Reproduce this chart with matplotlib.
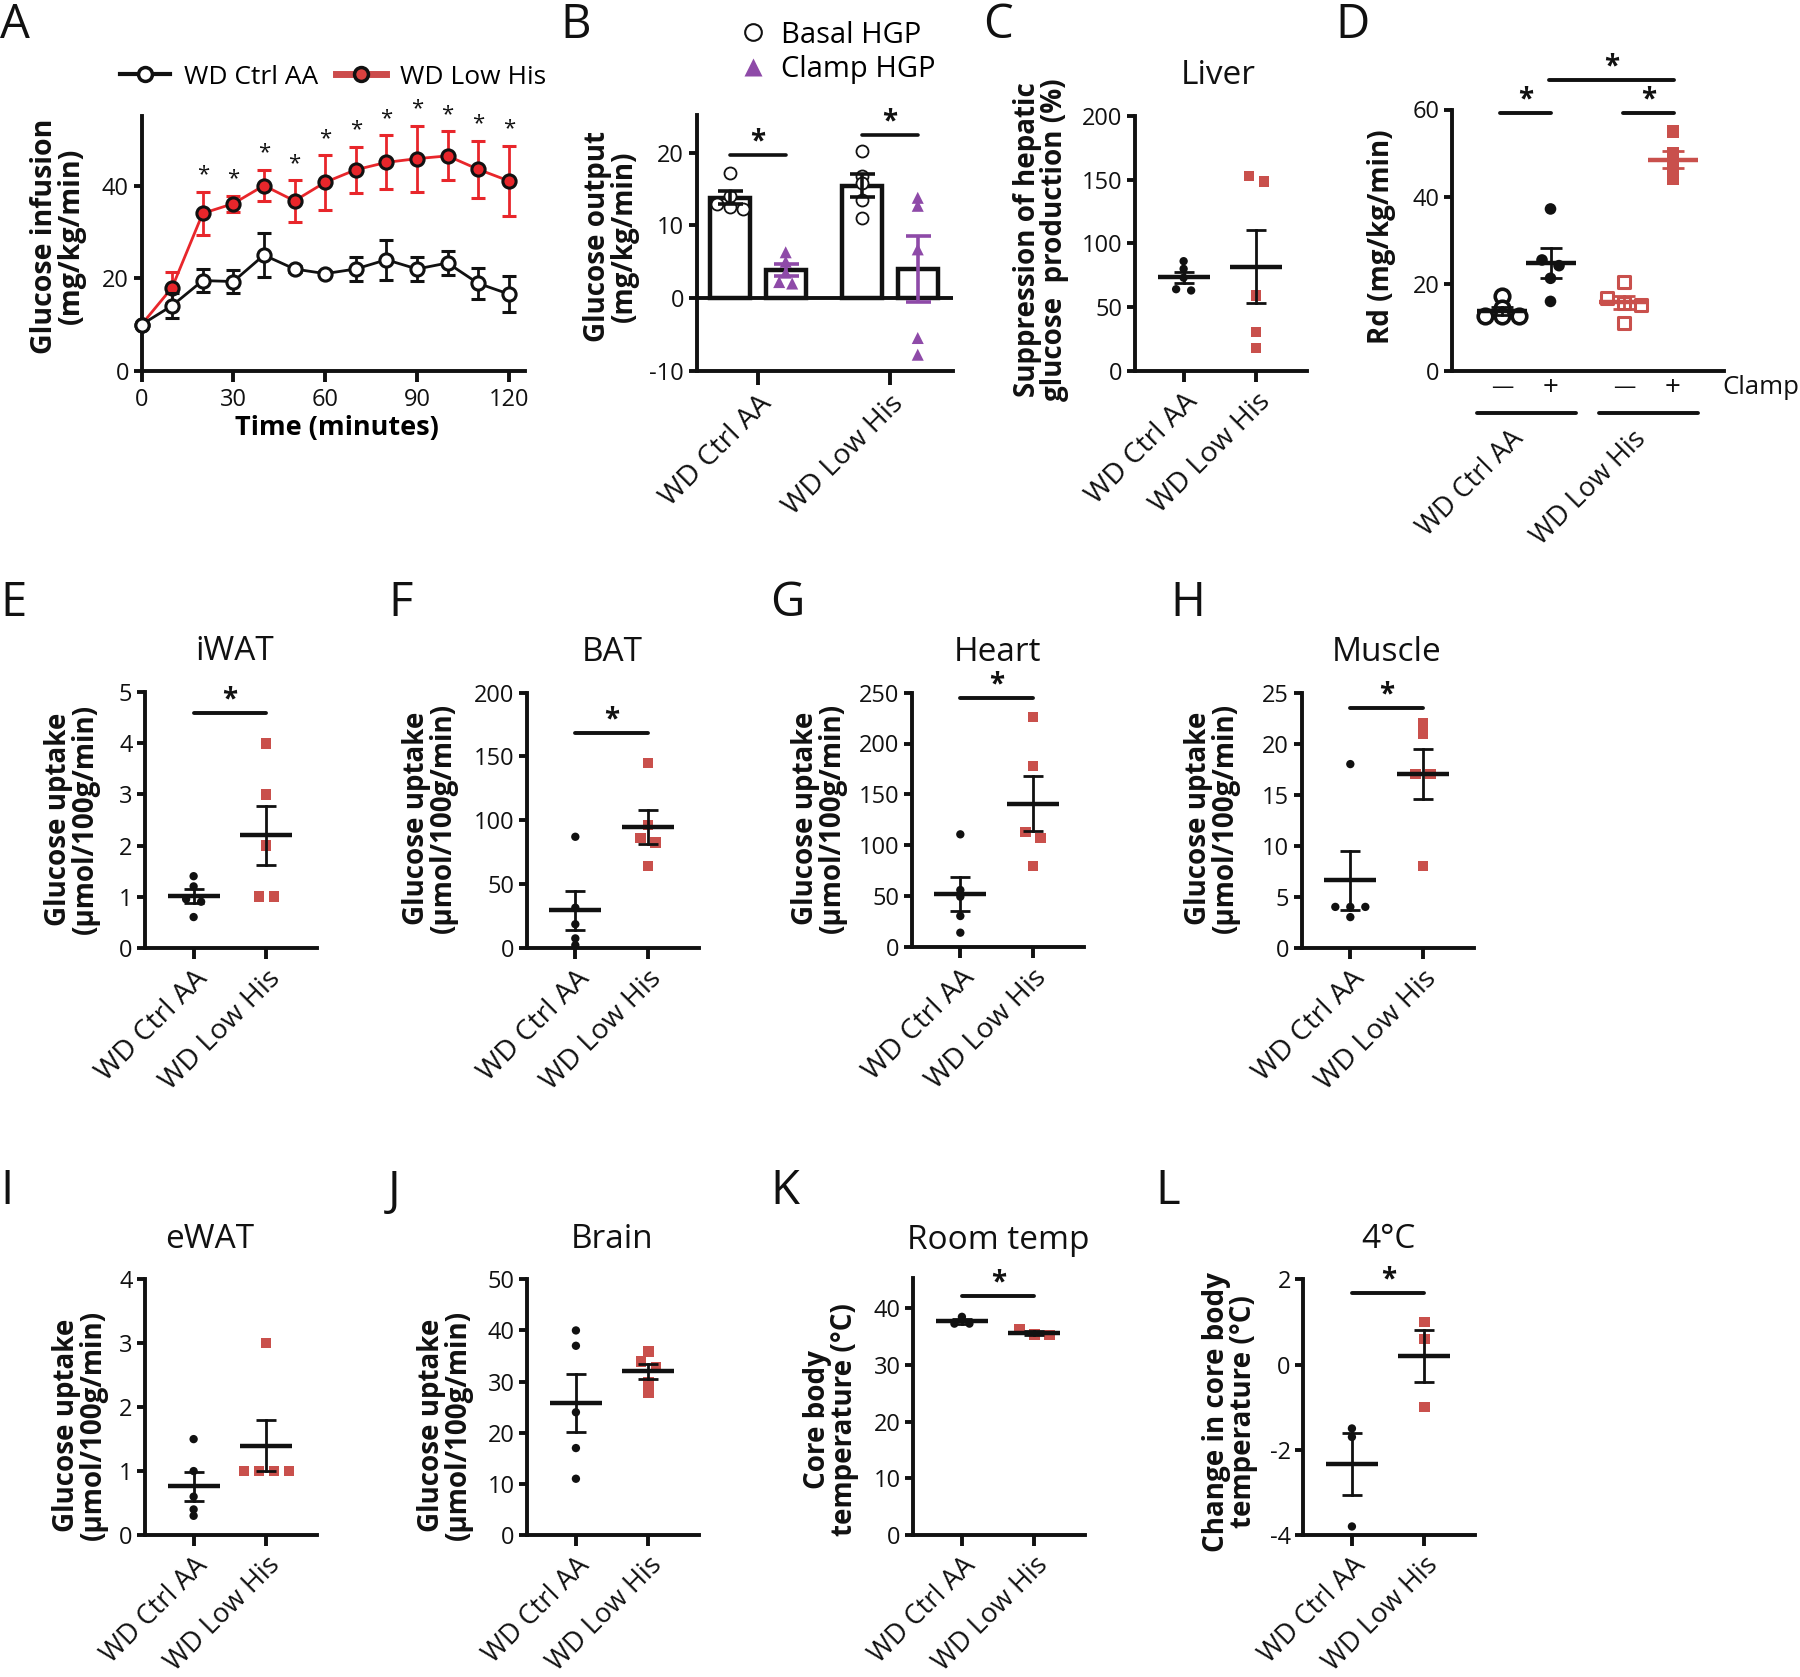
import numpy as np
import matplotlib
matplotlib.use("Agg")
import matplotlib.pyplot as plt
from matplotlib.lines import Line2D
import matplotlib.transforms as mtrans

plt.rcParams['font.family'] = ['Open Sans', 'DejaVu Sans']
plt.rcParams['axes.unicode_minus'] = False

# ---------------- data ----------------
groups = ['WD Ctrl AA', 'WD Low His']

# A: glucose infusion rate
time_min = [0, 10, 20, 30, 40, 50, 60, 70, 80, 90, 100, 110, 120]
gir_ctrl = [10.0, 14.1, 19.5, 19.3, 25.0, 22.0, 21.0, 22.0, 24.0, 22.0, 23.3, 18.9, 16.6]
gir_ctrl_sem = [0.0, 2.7, 2.5, 2.5, 4.7, 0.7, 0.5, 2.5, 4.3, 2.5, 2.5, 3.3, 3.9]
gir_lowhis = [10.0, 18.0, 34.0, 36.1, 40.0, 36.7, 40.7, 43.4, 45.0, 45.8, 46.4, 43.5, 41.0]
gir_lowhis_sem = [0.0, 3.3, 4.7, 1.7, 3.4, 4.5, 5.9, 5.0, 5.8, 7.1, 5.3, 6.2, 7.6]
gir_sig = [False, False, True, True, True, True, True, True, True, True, True, True, True]

# B: hepatic glucose production
hgp_basal_ctrl = [17.2, 12.3, 12.5, 13.0, 14.0]
hgp_clamp_ctrl = [6.3, 5.0, 3.5, 2.0, 2.2]
hgp_basal_lowhis = [20.2, 16.8, 15.8, 13.5, 11.0]
hgp_clamp_lowhis = [13.8, 12.7, 6.7, -5.5, -7.8]

# C: suppression of HGP
liver_ctrl = [86, 80, 73, 64, 63]
liver_lowhis = [153, 148.5, 59, 30.6, 18]

# D: Rd
rd_labels = ['\u2014', '+', '\u2014', '+']
rd_ctrl_basal = [17.2, 14.5, 12.6, 12.6, 12.6]
rd_ctrl_clamp = [37.2, 25.5, 24.2, 21.3, 16.0]
rd_lowhis_basal = [20.4, 16.8, 15.6, 15.2, 11.1]
rd_lowhis_clamp = [55.0, 49.9, 47.6, 46.0, 44.0]

# E-J: tissue glucose uptake
iwat_ctrl = [1.4, 1.2, 0.95, 0.9, 0.6]
iwat_lowhis = [4.0, 3.0, 2.0, 1.0, 1.0]
bat_ctrl = [87, 31.4, 18.4, 7.3, 2.0]
bat_lowhis = [144.6, 96.2, 86.3, 82.4, 64.1]
heart_ctrl = [110.6, 55.8, 49.2, 30.2, 13.8]
heart_lowhis = [226.4, 177.9, 112.6, 107.3, 79.4]
muscle_ctrl = [18, 4, 4, 4, 3]
muscle_lowhis = [22, 21, 17, 17, 8]
ewat_ctrl = [1.5, 1.0, 0.6, 0.4, 0.3]
ewat_lowhis = [3.0, 1.0, 1.0, 1.0, 1.0]
brain_ctrl = [40, 37, 24, 17, 11]
brain_lowhis = [35.9, 33.9, 32.8, 29.8, 27.8]

# K, L: body temperature
roomtemp_ctrl = [38.5, 37.3, 37.3]
roomtemp_lowhis = [36.3, 35.4, 35.3]
cold_ctrl = [-1.5, -1.7, -3.8]
cold_lowhis = [1.0, 0.6, -1.0]

# ---------------- style ----------------
W, H = 1800, 1677
BLACK = '#111111'
RED_LINE = '#e8262b'
SQ_RED = '#c9504c'
PURPLE = '#8e4aa8'
TICK_FS = 17
XLAB_FS = 20.5
YLAB_FS = 20
TITLE_FS = 24
LETTER_FS = 34
LW = 2.8

fig = plt.figure(figsize=(W / 100, H / 100), dpi=100)


def fx(x):
    return x / W


def fy(y):
    return 1 - y / H


def px_rect(x0, y0, x1, y1):
    return [x0 / W, 1 - y1 / H, (x1 - x0) / W, (y1 - y0) / H]


def style_axes(ax):
    for s in ['top', 'right']:
        ax.spines[s].set_visible(False)
    for s in ['left', 'bottom']:
        ax.spines[s].set_linewidth(LW)
        ax.spines[s].set_color(BLACK)
    ax.tick_params(axis='both', direction='out', width=LW, labelsize=TICK_FS,
                   colors=BLACK)
    ax.tick_params(axis='y', length=6, pad=3)
    ax.tick_params(axis='x', length=8, pad=4)
    ax.patch.set_alpha(0)


def ylab(x, y, text, fs=YLAB_FS):
    fig.text(fx(x), fy(y), text, rotation=90, ha='center', va='center',
             fontsize=fs, fontweight='bold', linespacing=0.92,
             multialignment='center', color=BLACK)


def title(x, y, text):
    fig.text(fx(x), fy(y + 3.5), text, ha='center', va='center',
             fontsize=TITLE_FS, color=BLACK)


def letter(x, y, text):
    fig.text(fx(x), fy(y), text, ha='left', va='top', fontsize=LETTER_FS,
             color=BLACK)


def px_per_unit_x(ax):
    return ax.transData.transform((1, 0))[0] - ax.transData.transform((0, 0))[0]


def swarm_x(ax, x0, vals, step_px=15, thresh_px=6):
    inv = ax.transData.inverted()
    ypx = np.array([ax.transData.transform((x0, v))[1] for v in vals])
    order = list(np.argsort(-ypx, kind='stable'))
    rows, cur = [], [order[0]]
    for i in order[1:]:
        if abs(ypx[cur[-1]] - ypx[i]) < thresh_px:
            cur.append(i)
        else:
            rows.append(cur)
            cur = [i]
    rows.append(cur)
    x0px = ax.transData.transform((x0, 0))[0]
    xs = np.zeros(len(vals))
    for row in rows:
        n = len(row)
        for k, i in enumerate(row):
            xp = x0px + (k - (n - 1) / 2) * step_px
            xs[i] = inv.transform((xp, ypx[i]))[0]
    return xs


def mean_sem(ax, x0, vals, color, mean_half_px=26, cap_half_px=10,
             lw_mean=3.2, lw_sem=2.0, z=5):
    v = np.asarray(vals, float)
    m = v.mean()
    s = v.std(ddof=1) / np.sqrt(len(v))
    pu = px_per_unit_x(ax)
    hm, hc = mean_half_px / pu, cap_half_px / pu
    ax.plot([x0 - hm, x0 + hm], [m, m], color=color, lw=lw_mean,
            solid_capstyle='butt', zorder=z, clip_on=False)
    ax.plot([x0, x0], [m - s, m + s], color=color, lw=lw_sem, zorder=z,
            clip_on=False)
    for yy in (m - s, m + s):
        ax.plot([x0 - hc, x0 + hc], [yy, yy], color=color, lw=lw_sem,
                solid_capstyle='butt', zorder=z, clip_on=False)


def sig_bar(ax, x0, x1, y, star_off_px=13, lw=LW):
    ax.plot([x0, x1], [y, y], color=BLACK, lw=lw, solid_capstyle='round',
            clip_on=False, zorder=6)
    ax.annotate('*', xy=((x0 + x1) / 2, y), xytext=(0, star_off_px * 0.72),
                textcoords='offset points', ha='center', va='center',
                fontsize=20, fontweight='bold', color=BLACK,
                annotation_clip=False)


def xgroup_labels(ax, fs=XLAB_FS):
    ax.set_xticks([0, 1])
    ax.set_xticklabels(groups, rotation=45, ha='right', va='top',
                       rotation_mode='anchor', fontsize=fs)


# ================= A =================
axA = fig.add_axes(px_rect(141.5, 116, 525, 371))
axA.set_xlim(0, 125.3)
axA.set_ylim(0, 55)
style_axes(axA)
axA.errorbar(time_min, gir_lowhis, yerr=gir_lowhis_sem, color=RED_LINE, lw=2,
             marker='o', ms=9.5, mfc=RED_LINE, mec=BLACK, mew=2.2,
             ecolor=RED_LINE, elinewidth=2, capsize=5, capthick=2,
             clip_on=False, zorder=3)
axA.errorbar(time_min, gir_ctrl, yerr=gir_ctrl_sem, color=BLACK, lw=2,
             marker='o', ms=9.5, mfc='white', mec=BLACK, mew=2.2,
             ecolor=BLACK, elinewidth=2, capsize=5, capthick=2,
             clip_on=False, zorder=4)
for t, m, s, sg in zip(time_min, gir_lowhis, gir_lowhis_sem, gir_sig):
    if sg:
        axA.text(t, m + s + 3.6, '*', ha='center', va='center', fontsize=16,
                 color=BLACK, clip_on=False)
axA.set_xticks([0, 30, 60, 90, 120])
axA.set_yticks([0, 20, 40])
fig.text(fx(337), fy(428), 'Time (minutes)', ha='center', va='center',
         fontsize=19.5, fontweight='bold')
ylab(58, 236, 'Glucose infusion\n(mg/kg/min)', fs=20.5)
hA = [Line2D([0], [0], color=BLACK, lw=3, marker='o', mfc='white', mec=BLACK,
             ms=10, mew=2.5),
      Line2D([0], [0], color='#cc4b4b', lw=5, marker='o', mfc='#d9413f',
             mec=BLACK, ms=10, mew=2.5)]
axA.legend(hA, groups, loc='center', bbox_to_anchor=(fx(333), fy(77)),
           bbox_transform=fig.transFigure, ncol=2, frameon=False, fontsize=19,
           handlelength=1.9, columnspacing=0.7, handletextpad=0.5)
letter(0, 2, 'A')

# ================= B =================
axB = fig.add_axes(px_rect(696.7, 115, 953, 370.7))
axB.set_xlim(-0.464, 1.477)
axB.set_ylim(-10, 25.2)
style_axes(axB)
axB.tick_params(axis='x', length=10)
axB.axhline(0, color=BLACK, lw=LW, zorder=2)
off = 0.21
bw = 0.30
b_sets = [(0 - off, hgp_basal_ctrl, 'basal'), (0 + off, hgp_clamp_ctrl, 'clamp'),
          (1 - off, hgp_basal_lowhis, 'basal'), (1 + off, hgp_clamp_lowhis, 'clamp')]
for xc, vals, kind in b_sets:
    v = np.asarray(vals, float)
    m = v.mean()
    s = v.std(ddof=1) / np.sqrt(len(v))
    axB.bar(xc, m, width=bw, color='white', edgecolor=BLACK, linewidth=3.2,
            zorder=3)
    xs = swarm_x(axB, xc, vals, step_px=13, thresh_px=6)
    if kind == 'basal':
        axB.scatter(xs, vals, s=75, marker='o', facecolor='white',
                    edgecolor=BLACK, linewidth=1.3, zorder=4, clip_on=False)
        ec = BLACK
    else:
        axB.scatter(xs, vals, s=75, marker='^', facecolor=PURPLE,
                    edgecolor='none', zorder=4, clip_on=False)
        ec = PURPLE
    axB.errorbar(xc, m, yerr=s, color=ec, elinewidth=2.6, capsize=9,
                 capthick=2.6, fmt='none', zorder=5)
xgroup_labels(axB)
axB.set_yticks([-10, 0, 10, 20])
sig_bar(axB, -off, off, 19.7, lw=2.6)
sig_bar(axB, 1 - off, 1 + off, 22.5, lw=2.6)
ylab(611, 236, 'Glucose output\n(mg/kg/min)')
hB = [Line2D([0], [0], ls='', marker='o', mfc='white', mec=BLACK, ms=12,
             mew=1.5),
      Line2D([0], [0], ls='', marker='^', mfc=PURPLE, mec='none', ms=13)]
axB.legend(hB, ['Basal HGP', 'Clamp HGP'], loc='upper left',
           bbox_to_anchor=(fx(724), fy(6)), bbox_transform=fig.transFigure,
           frameon=False, fontsize=21, handlelength=1.0, handletextpad=0.45,
           labelspacing=0.2, borderpad=0)
letter(560, 2, 'B')


# ================= scatter panels =================
def scatter_panel(yaxis_px, top_px, bot_px, ylim, yticks, ctrl, lowhis,
                  ttl=None, ttl_xy=None, ylabel=None, ylabel_xy=None,
                  sig=None, xfs=XLAB_FS):
    ax = fig.add_axes(px_rect(yaxis_px, top_px, yaxis_px + 172, bot_px))
    ax.set_xlim(-0.67, 1.70)
    ax.set_ylim(*ylim)
    style_axes(ax)
    ax.set_yticks(yticks)
    xgroup_labels(ax, xfs)
    xs0 = swarm_x(ax, 0, ctrl)
    xs1 = swarm_x(ax, 1, lowhis)
    ax.scatter(xs0, ctrl, s=36, marker='o', color=BLACK, edgecolor='none',
               zorder=3, clip_on=False)
    ax.scatter(xs1, lowhis, s=55, marker='s', color=SQ_RED, edgecolor='none',
               zorder=3, clip_on=False)
    mean_sem(ax, 0, ctrl, BLACK)
    mean_sem(ax, 1, lowhis, BLACK)
    if sig is not None:
        sig_bar(ax, 0, 1, sig)
    if ttl:
        title(ttl_xy[0], ttl_xy[1], ttl)
    if ylabel:
        ylab(ylabel_xy[0], ylabel_xy[1], ylabel)
    return ax


uptake = 'Glucose uptake\n(\u03bcmol/100g/min)'

# C
scatter_panel(1135, 116, 370.7, (0, 200), [0, 50, 100, 150, 200],
              liver_ctrl, liver_lowhis, 'Liver', (1218, 72),
              'Suppression of hepatic\nglucose  production (%)', (1041, 240))
letter(983, 2, 'C')

# ================= D =================
axD = fig.add_axes(px_rect(1452.3, 109.5, 1724.4, 371.2))
axD.set_xlim(-1.033, 4.60)
axD.set_ylim(0, 60)
style_axes(axD)
axD.set_xticks([])
axD.set_yticks([0, 20, 40, 60])
xposD = [0, 1, 2.53, 3.53]
d_sets = [(rd_ctrl_basal, 'o', 'white', BLACK, 2.6, 110, BLACK),
          (rd_ctrl_clamp, 'o', BLACK, 'none', 0, 70, BLACK),
          (rd_lowhis_basal, 's', 'white', SQ_RED, 2.2, 80, SQ_RED),
          (rd_lowhis_clamp, 's', SQ_RED, 'none', 0, 80, SQ_RED)]
for xc, (vals, mk, fc, ec, elw, sz, lc) in zip(xposD, d_sets):
    xs = swarm_x(axD, xc, vals, step_px=17, thresh_px=6)
    axD.scatter(xs, vals, s=sz, marker=mk, facecolor=fc, edgecolor=ec,
                linewidth=elw, zorder=3, clip_on=False)
    mean_sem(axD, xc, vals, lc, mean_half_px=25, cap_half_px=11)
sig_bar(axD, xposD[0] - 0.04, xposD[1] + 0.02, 59.2)
sig_bar(axD, xposD[2] - 0.02, xposD[3] + 0.02, 59.2)
sig_bar(axD, xposD[1] - 0.03, xposD[3] + 0.02, 66.8)
trD = mtrans.blended_transform_factory(axD.transData, fig.transFigure)
for xc, lab in zip(xposD, rd_labels):
    axD.text(xc, fy(388), lab, transform=trD, ha='center', va='center',
             fontsize=16 if lab != '+' else 20, color=BLACK, clip_on=False)
for g in range(2):
    x0, x1 = xposD[2 * g] - 0.53, xposD[2 * g + 1] + 0.53
    axD.plot([x0, x1], [fy(413), fy(413)], transform=trD, color=BLACK, lw=LW,
             solid_capstyle='round', clip_on=False)
    axD.text((xposD[2 * g] + xposD[2 * g + 1]) / 2 - 0.35, fy(425), groups[g],
             transform=trD, rotation=45, ha='right', va='top',
             rotation_mode='anchor', fontsize=19.5, color=BLACK)
fig.text(fx(1722), fy(388), 'Clamp', ha='left', va='center', fontsize=18.5,
         color=BLACK)
ylab(1381, 237, 'Rd (mg/kg/min)')
letter(1335, 2, 'D')

# ================= Row 2 =================
scatter_panel(145, 692.3, 947.7, (0, 5), [0, 1, 2, 3, 4, 5], iwat_ctrl,
              iwat_lowhis, 'iWAT', (235, 648), uptake, (72, 819), sig=4.6)
letter(0, 580, 'E')
scatter_panel(526.7, 692.7, 947.7, (0, 200), [0, 50, 100, 150, 200], bat_ctrl,
              bat_lowhis, 'BAT', (612, 649), uptake, (430, 818), sig=168.6)
letter(388, 580, 'F')
scatter_panel(911.7, 692.7, 946.7, (0, 250), [0, 50, 100, 150, 200, 250],
              heart_ctrl, heart_lowhis, 'Heart', (998, 649), uptake, (819, 818),
              sig=244.5)
letter(770, 580, 'G')
scatter_panel(1301.7, 692.7, 947.7, (0, 25), [0, 5, 10, 15, 20, 25],
              muscle_ctrl, muscle_lowhis, 'Muscle', (1387, 649), uptake,
              (1212, 818), sig=23.5)
letter(1170, 580, 'H')

# ================= Row 3 =================
R3 = 19.5
scatter_panel(145, 1279.3, 1535, (0, 4), [0, 1, 2, 3, 4], ewat_ctrl,
              ewat_lowhis, 'eWAT', (210, 1236), uptake, (80, 1425), xfs=R3)
letter(0, 1168, 'I')
scatter_panel(527.3, 1279.3, 1535, (0, 50), [0, 10, 20, 30, 40, 50],
              brain_ctrl, brain_lowhis, 'Brain', (612, 1236), uptake,
              (445, 1425), xfs=R3)
letter(388, 1168, 'J')
scatter_panel(913.3, 1278.3, 1535, (0, 45.3), [0, 10, 20, 30, 40],
              roomtemp_ctrl, roomtemp_lowhis, 'Room temp', (998, 1237),
              'Core body\ntemperature (\u00b0C)', (831, 1420), sig=42.2,
              xfs=R3)
letter(770, 1168, 'K')
scatter_panel(1303.3, 1279.3, 1535, (-4, 2), [-4, -2, 0, 2], cold_ctrl,
              cold_lowhis, '4\u00b0C', (1388, 1236),
              'Change in core body\ntemperature (\u00b0C)', (1230, 1412),
              sig=1.69, xfs=R3)
letter(1155, 1168, 'L')

fig.savefig('out.png', dpi=100, facecolor='white')
